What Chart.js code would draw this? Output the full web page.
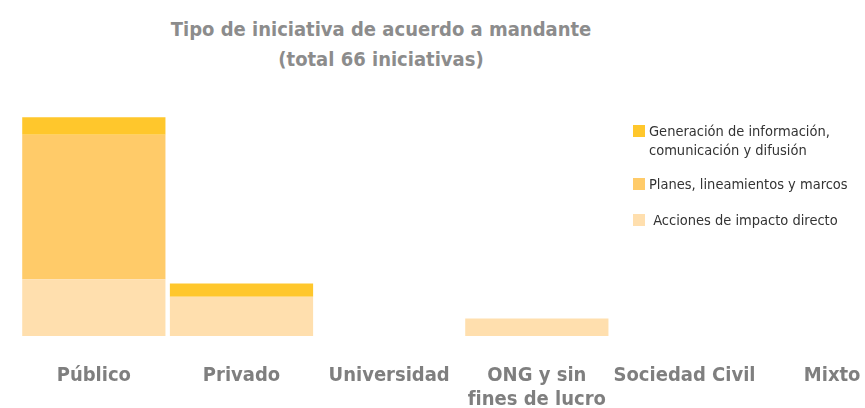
<!DOCTYPE html>
<html lang="es">
<head>
  <meta charset="UTF-8" />
  <title>Tipo de iniciativa de acuerdo a mandante</title>
  <script src="https://cdn.jsdelivr.net/npm/chart.js"></script>
  <style>
    html, body {
      margin: 0;
      padding: 0;
      width: 865px;
      height: 408px;
      overflow: hidden;
      background: #fff;
      font-family: 'DejaVu Sans Condensed', sans-serif;
    }
    #titulo {
      position: absolute;
      left: 0;
      top: 14px;
      width: 762px;
      text-align: center;
      color: #8c8c8c;
      font-weight: bold;
      font-size: 20px;
      line-height: 30px;
    }
    /* el contenedor es mas ancho y alto que la ventana: la ultima categoria queda cortada como en el original */
    #contenedor {
      position: absolute;
      left: 0;
      top: 0;
      width: 906px;
      height: 440px;
    }
    #leyenda {
      position: absolute;
      left: 633px;
      top: 122px;
      color: #333;
      font-size: 14.5px;
    }
    .item {
      position: absolute;
      left: 0;
      white-space: nowrap;
    }
    .item span.caja {
      position: absolute;
      left: 0;
      top: 3px;
      width: 12px;
      height: 12px;
    }
    .item span.txt {
      display: block;
      margin-left: 16px;
      line-height: 19px;
    }
  </style>
</head>
<body>

  <div id="titulo">Tipo de iniciativa de acuerdo a mandante<br>(total 66 iniciativas)</div>

  <div id="contenedor">
    <canvas id="grafico"></canvas>
  </div>

  <div id="leyenda"></div>

  <script>
    // categorias (mandante)
    const categorias = ['Público', 'Privado', 'Universidad', ['ONG y sin', 'fines de lucro'], 'Sociedad Civil', 'Mixto'];

    // series, de abajo hacia arriba
    const acciones = [13, 9, 0, 4, 0, 0];
    const planes = [33, 0, 0, 0, 0, 0];
    const generacion = [4, 3, 0, 0, 0, 0];

    const colores = {
      acciones: '#FFDFAE',
      planes: '#FFCB69',
      generacion: '#FFC72C'
    };

    // leyenda en html (orden de arriba hacia abajo como en la imagen)
    const leyenda = [
      { texto: 'Generación de información,<br>comunicación y difusión', color: colores.generacion, top: 0 },
      { texto: 'Planes, lineamientos y marcos', color: colores.planes, top: 53 },
      { texto: '&nbsp;Acciones de impacto directo', color: colores.acciones, top: 89 }
    ];
    const divLeyenda = document.getElementById('leyenda');
    leyenda.forEach(l => {
      divLeyenda.innerHTML += `<div class="item" style="top:${l.top}px">
        <span class="caja" style="background:${l.color}"></span>
        <span class="txt">${l.texto}</span>
      </div>`;
    });

    const ctx = document.getElementById('grafico').getContext('2d');
    new Chart(ctx, {
      type: 'bar',
      data: {
        labels: categorias,
        datasets: [
          { label: 'Acciones de impacto directo', data: acciones, backgroundColor: colores.acciones },
          { label: 'Planes, lineamientos y marcos', data: planes, backgroundColor: colores.planes },
          { label: 'Generación de información, comunicación y difusión', data: generacion, backgroundColor: colores.generacion }
        ]
      },
      options: {
        responsive: true,
        maintainAspectRatio: false,
        animation: false,
        layout: {
          padding: { left: 20, right: 0, top: 91, bottom: 0 }
        },
        datasets: {
          bar: {
            categoryPercentage: 1.0,
            barPercentage: 0.97,
            borderWidth: 0
          }
        },
        plugins: {
          legend: { display: false },
          title: { display: false },
          tooltip: { enabled: false }
        },
        scales: {
          x: {
            stacked: true,
            grid: { display: false, drawTicks: false },
            border: { display: false },
            ticks: {
              color: '#7f7f7f',
              font: { family: "'DejaVu Sans Condensed', sans-serif", size: 20, weight: 'bold', lineHeight: 1.2 },
              padding: 28,
              autoSkip: false,
              maxRotation: 0
            }
          },
          y: {
            stacked: true,
            display: false,
            min: 0,
            max: 56
          }
        }
      }
    });
  </script>

</body>
</html>
